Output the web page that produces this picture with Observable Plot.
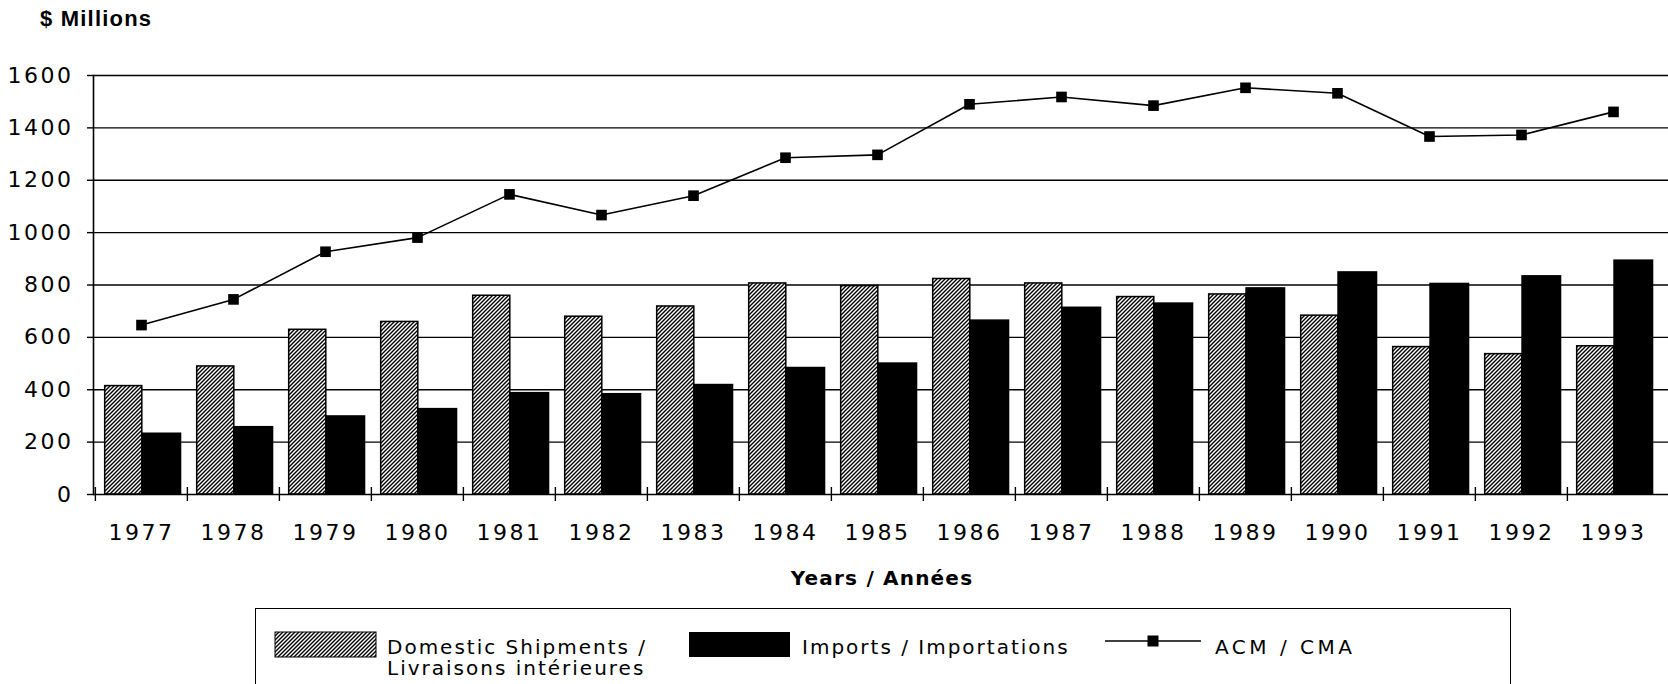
<!DOCTYPE html>
<html>
<head>
<meta charset="utf-8">
<script src="https://cdn.jsdelivr.net/npm/d3@7"></script>
<script src="https://cdn.jsdelivr.net/npm/@observablehq/plot@0.6"></script>
<style>
  body { margin:0; background:#fff; width:1668px; height:684px; overflow:hidden; position:relative; font-family:"DejaVu Sans", sans-serif; color:#000; }
  #title { position:absolute; left:40px; top:7px; font-family:"Liberation Sans", Arial, sans-serif; font-weight:bold; font-size:22px; letter-spacing:1.2px; line-height:24px; white-space:nowrap; }
  #chart { position:absolute; left:0; top:40px; }
  #xlabel { position:absolute; left:882px; top:566px; transform:translateX(-50%); font-weight:bold; font-size:20px; letter-spacing:1.2px; line-height:24px; white-space:nowrap; }
  #legend { position:absolute; left:255px; top:608px; width:1256px; height:120px; border:1.5px solid #000; box-sizing:border-box; }
  #legend .it { position:absolute; font-size:20px; line-height:21px; letter-spacing:2px; white-space:nowrap; }
  #legend svg { position:absolute; overflow:visible; }
</style>
</head>
<body>
<div id="title">$ Millions</div>
<div id="chart"></div>
<div id="xlabel">Years / Années</div>
<div id="legend"></div>
<script>
const years = [1977,1978,1979,1980,1981,1982,1983,1984,1985,1986,1987,1988,1989,1990,1991,1992,1993];
const domestic = [414,489,629,659,759,679,718,806,796,823,806,754,764,683,563,536,566];
const imports  = [232,257,298,326,387,383,418,483,500,664,713,729,787,848,804,833,893];
const acm      = [647,745,927,981,1146,1067,1141,1286,1297,1490,1518,1485,1553,1532,1367,1373,1461];
const yTicks = [0,200,400,600,800,1000,1200,1400,1600];
const seriesLabels = ["Domestic Shipments /\nLivraisons intérieures", "Imports / Importations", "ACM / CMA"];

const W = 1668, H = 560, mL = 93, mR = 7, mT = 35, mB = 106;
const bw = (W - mL - mR) / years.length;
const rows = years.map((y, i) => ({year: String(y), domestic: domestic[i], imports: imports[i], acm: acm[i]}));

const plot = Plot.plot({
  width: W, height: H,
  marginLeft: mL, marginRight: mR, marginTop: mT, marginBottom: mB,
  style: {fontFamily: "DejaVu Sans", fontSize: "22px", color: "#000", background: "#fff", overflow: "visible"},
  x: {type: "band", domain: years.map(String), padding: 0},
  y: {domain: [0, 1600]},
  marks: [
    Plot.gridY(yTicks.filter(t => t > 0), {stroke: "#000", strokeOpacity: 1, strokeWidth: 1.4, insetRight: -mR}),
    Plot.barY(rows, {x: "year", y: "domestic", fill: "url(#hatch)", stroke: "#000", strokeWidth: 1.5,
      insetLeft: 0.105 * bw, insetRight: 0.49 * bw}),
    Plot.barY(rows, {x: "year", y: "imports", fill: "#000", stroke: "#000", strokeWidth: 1.5,
      insetLeft: 0.51 * bw, insetRight: 0.07 * bw}),
    Plot.line(rows, {x: "year", y: "acm", stroke: "#000", strokeWidth: 1.6}),
    Plot.dot(rows, {x: "year", y: "acm", symbol: "square", r: 6, fill: "#000", stroke: null}),
    Plot.axisY({ticks: yTicks, tickSize: 6, tickPadding: 14, label: null, strokeWidth: 1.4, tickFormat: d => String(d)}),
    Plot.axisX({tickSize: 0, tickPadding: 30, label: null}),
    Plot.axisX({tickSize: 14, dy: -7, dx: -bw / 2, tickFormat: () => "", label: null, strokeWidth: 1.4}),
    Plot.ruleY([0], {stroke: "#000", strokeWidth: 1.6, insetRight: -mR}),
    Plot.frame({anchor: "left", stroke: "#000", strokeWidth: 1.6})
  ]
});

const svg = d3.select(plot);
const defs = svg.insert("defs", ":first-child");
const pat = defs.append("pattern").attr("id", "hatch").attr("patternUnits", "userSpaceOnUse")
  .attr("width", 4).attr("height", 4);
pat.append("rect").attr("width", 4).attr("height", 4).attr("fill", "#fff");
pat.append("path").attr("d", "M-1,1 l2,-2 M0,4 l4,-4 M3,5 l2,-2").attr("stroke", "#000").attr("stroke-width", 1.4);
svg.selectAll("text").style("letter-spacing", "2.5px");
document.getElementById("chart").appendChild(plot);

// Legend
const lg = d3.select("#legend");
const sw1 = lg.append("svg").attr("width", 101).attr("height", 25).style("left", "19px").style("top", "23px");
sw1.append("rect").attr("width", 101).attr("height", 25).attr("fill", "url(#hatch)").attr("stroke", "#000").attr("stroke-width", 1);
lg.append("div").attr("class", "it").style("left", "131px").style("top", "28px")
  .html(seriesLabels[0].split("\n").join("<br>"));
const sw2 = lg.append("svg").attr("width", 101).attr("height", 25).style("left", "433px").style("top", "23px");
sw2.append("rect").attr("width", 101).attr("height", 25).attr("fill", "#000");
lg.append("div").attr("class", "it").style("left", "546px").style("top", "28px").text(seriesLabels[1]);
const sw3 = lg.append("svg").attr("width", 96).attr("height", 20).style("left", "849px").style("top", "22px");
sw3.append("line").attr("x1", 0).attr("x2", 96).attr("y1", 10).attr("y2", 10).attr("stroke", "#000").attr("stroke-width", 1.6);
sw3.append("rect").attr("x", 48 - 5.5).attr("y", 10 - 5.5).attr("width", 11).attr("height", 11).attr("fill", "#000");
lg.append("div").attr("class", "it").style("left", "959px").style("top", "28px").style("letter-spacing", "3.5px").text(seriesLabels[2]);
</script>
</body>
</html>
